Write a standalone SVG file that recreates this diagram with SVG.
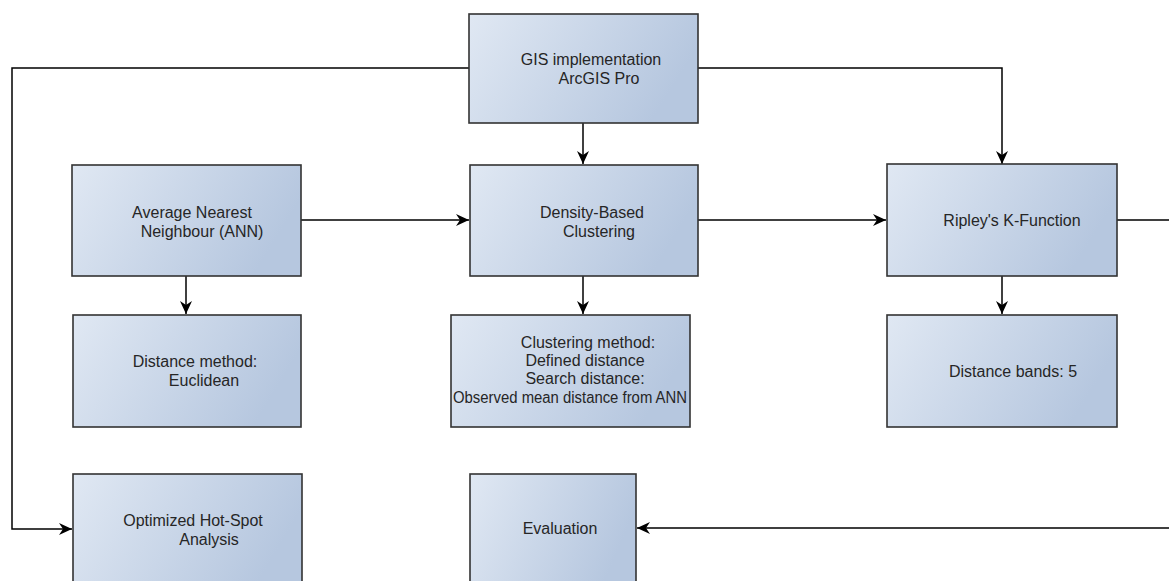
<svg xmlns="http://www.w3.org/2000/svg" width="1169" height="581" viewBox="0 0 1169 581">
<style>
.box{fill:url(#g);stroke:#333;stroke-width:1.6}
.t{font-family:"Liberation Sans",Arial,sans-serif;font-size:16px;fill:#262626;text-anchor:middle}
.c{fill:none;stroke:#000;stroke-width:1.5;marker-end:url(#a)}
</style>
<defs>
<linearGradient id="g" x1="0" y1="0" x2="1" y2="0.3">
<stop offset="0" stop-color="#e0e8f3"/>
<stop offset="1" stop-color="#b6c7df"/>
</linearGradient>
<marker id="a" markerUnits="userSpaceOnUse" markerWidth="14" markerHeight="12" refX="13" refY="6" orient="auto">
<path d="M0,0 L13,6 L0,12 L4,6 Z" fill="#000"/>
</marker>
</defs>
<rect width="1169" height="581" fill="#fff"/>
<g id="connectors">
<path class="c" d="M469,68 H12 V529 H72"/>
<path class="c" d="M698,68 H1002 V164"/>
<path class="c" d="M583,123 V164"/>
<path class="c" d="M301,220 H469"/>
<path class="c" d="M698,220 H886"/>
<path class="c" d="M1117,220 H1185 V528 H637"/>
<path class="c" d="M186,276 V314"/>
<path class="c" d="M583,276 V314"/>
<path class="c" d="M1002,276 V314"/>
</g>
<g id="gis">
<rect class="box" x="469" y="14" width="229" height="109"/>
<text class="t" x="591" y="65">GIS implementation</text>
<text class="t" x="599" y="84">ArcGIS Pro</text>
</g>
<g id="ann">
<rect class="box" x="72" y="165" width="229" height="111"/>
<text class="t" x="192" y="218">Average Nearest</text>
<text class="t" x="202" y="237">Neighbour (ANN)</text>
</g>
<g id="density">
<rect class="box" x="470" y="165" width="228" height="111"/>
<text class="t" x="592" y="218">Density-Based</text>
<text class="t" x="599" y="237">Clustering</text>
</g>
<g id="ripley">
<rect class="box" x="887" y="164" width="230" height="112"/>
<text class="t" x="1012" y="226">Ripley's K-Function</text>
</g>
<g id="distance-method">
<rect class="box" x="73" y="315" width="228" height="112"/>
<text class="t" x="195" y="367">Distance method:</text>
<text class="t" x="204" y="386">Euclidean</text>
</g>
<g id="clustering-method">
<rect class="box" x="451" y="315" width="239" height="112"/>
<text class="t" x="588" y="348">Clustering method:</text>
<text class="t" x="585" y="366">Defined distance</text>
<text class="t" x="585" y="384">Search distance:</text>
<text class="t" x="570" y="403" textLength="234" lengthAdjust="spacingAndGlyphs">Observed mean distance from ANN</text>
</g>
<g id="distance-bands">
<rect class="box" x="887" y="315" width="230" height="112"/>
<text class="t" x="1013" y="377">Distance bands: 5</text>
</g>
<g id="hotspot">
<rect class="box" x="73" y="474" width="229" height="115"/>
<text class="t" x="193" y="526">Optimized Hot-Spot</text>
<text class="t" x="209" y="545">Analysis</text>
</g>
<g id="evaluation">
<rect class="box" x="470" y="474" width="166" height="115"/>
<text class="t" x="560" y="534">Evaluation</text>
</g>
</svg>
